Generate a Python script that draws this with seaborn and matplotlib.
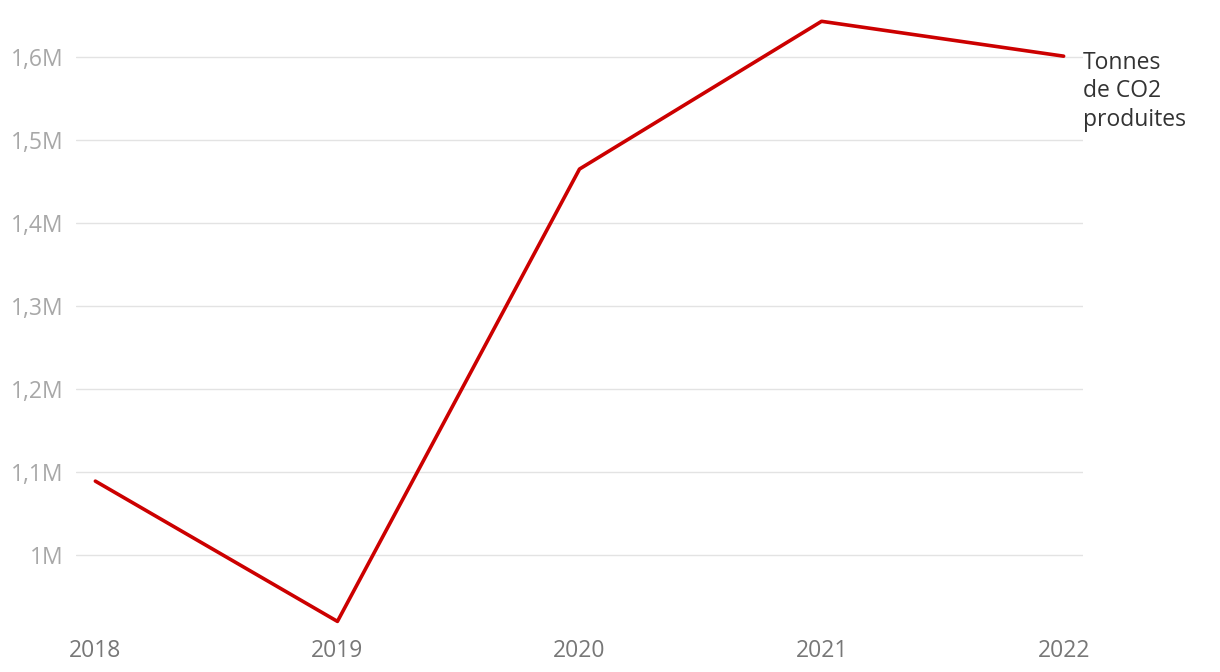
import matplotlib
matplotlib.use("Agg")
import matplotlib.pyplot as plt
import matplotlib.ticker as mticker
import seaborn as sns
import pandas as pd

# Values (tonnes of CO2)
years = [2018, 2019, 2020, 2021, 2022]
co2_tonnes = [1089000, 920000, 1465000, 1643000, 1601000]
y_ticks = [1000000, 1100000, 1200000, 1300000, 1400000, 1500000, 1600000]
series_label = "Tonnes\nde CO2\nproduites"

df = pd.DataFrame({"year": years, "co2": co2_tonnes})

sns.set_theme(style="white")
plt.rcParams["font.family"] = ["Open Sans", "DejaVu Sans"]

fig = plt.figure(figsize=(12.2, 6.72), dpi=100)
ax = fig.add_axes([76 / 1220, 1 - 629.7 / 672, (1083 - 76) / 1220, (629.7 - 15.5) / 672])

sns.lineplot(data=df, x="year", y="co2", color="#cc0000", linewidth=2.6, ax=ax)

ax.set_xlim(2017.92, 2022.08)
ax.set_ylim(910000, 1650000)
ax.set_xticks(years)
ax.set_yticks(y_ticks)

def fmt_m(v, pos):
    s = f"{v / 1e6:.1f}".rstrip("0").rstrip(".")
    return s.replace(".", ",") + "M"

ax.yaxis.set_major_formatter(mticker.FuncFormatter(fmt_m))
ax.grid(axis="y", color="#e3e3e3", linewidth=1)
ax.grid(axis="x", visible=False)
for s in ax.spines.values():
    s.set_visible(False)
ax.tick_params(axis="x", length=0, pad=7, labelsize=16.5, labelcolor="#777777")
ax.tick_params(axis="y", length=0, pad=9, labelsize=16.5, labelcolor="#a8a8a8")
ax.set_xlabel("")
ax.set_ylabel("")

ax.annotate(series_label, xy=(years[-1], co2_tonnes[-1]), xytext=(14, 4),
            textcoords="offset points", ha="left", va="top",
            fontsize=16.5, color="#333333", linespacing=1.27,
            annotation_clip=False)

fig.savefig("out.png", dpi=100)
